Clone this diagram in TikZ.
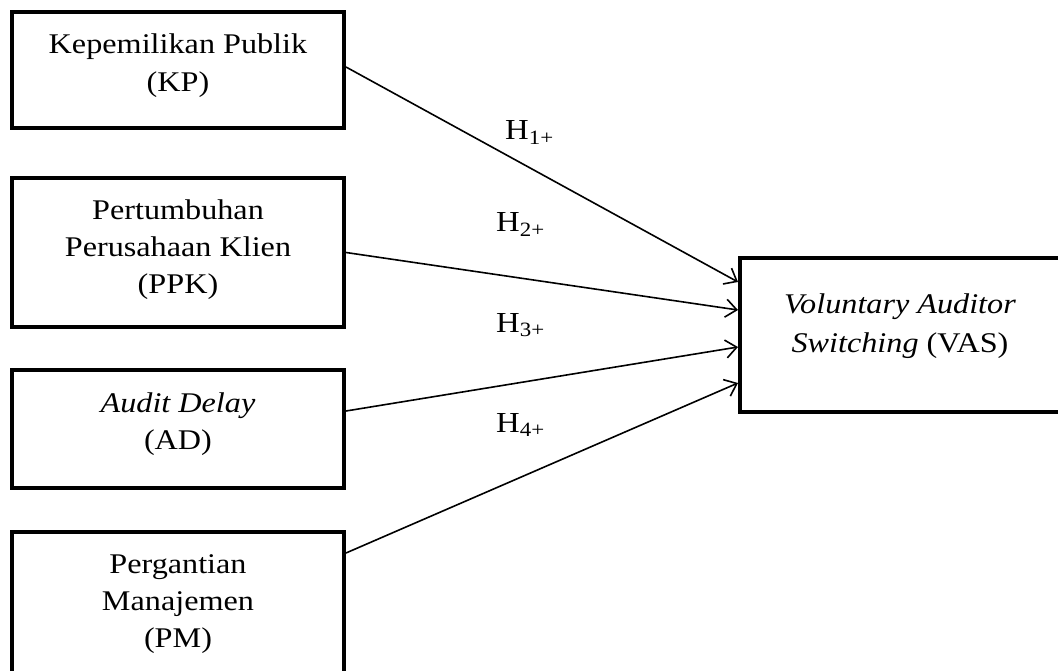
\documentclass[tikz,border=0pt]{standalone}
\usepackage{fontspec}
\setmainfont{Liberation Serif}[FakeStretch=1.13]
\usetikzlibrary{arrows.meta,calc}
\begin{document}
\begin{tikzpicture}[x=1pt,y=-1pt,
  box/.style={draw,line width=4pt,rectangle,inner sep=0pt},
  txt/.style={anchor=base,inner sep=0pt,font=\fontsize{28.5}{37}\selectfont},
  hyp/.style={anchor=base west,inner sep=0pt,font=\fontsize{29}{37}\selectfont},
  arr/.style={line width=1.6pt,-{Straight Barb[length=11pt,width=18pt,line width=1.6pt]}}]
\useasboundingbox (0,0) rectangle (1058,671);
\clip (0,0) rectangle (1058,671);
\fill[white] (0,0) rectangle (1058,671);
\node[box,minimum width=332pt,minimum height=116pt] (kp) at (178,70) {};
\node[box,minimum width=332pt,minimum height=149pt] (ppk) at (178,252.5) {};
\node[box,minimum width=332pt,minimum height=118pt] (ad) at (178,429) {};
\node[box,minimum width=332pt,minimum height=228pt] (pm) at (178,646) {};
\node[box,minimum width=380pt,minimum height=154pt] (vas) at (930,335) {};
\node[txt] (kp1) at (178,54) {Kepemilikan Publik};
\node[txt] (kp2) at (178,92) {(KP)};
\node[txt] (ppk1) at (178,220) {Pertumbuhan};
\node[txt] (ppk2) at (178,257) {Perusahaan Klien};
\node[txt] (ppk3) at (178,294) {(PPK)};
\node[txt] (ad1) at (178,412) {\textit{Audit Delay}};
\node[txt] (ad2) at (178,449) {(AD)};
\node[txt] (pm1) at (178,573) {Pergantian};
\node[txt] (pm2) at (178,610) {Manajemen};
\node[txt] (pm3) at (178,647) {(PM)};
\node[txt] (vas1) at (900,313) {\textit{Voluntary Auditor}};
\node[txt] (vas2) at (900,352) {\textit{Switching} (VAS)};
\node[hyp] (h1) at (505,140) {H\textsubscript{1+}};
\node[hyp] (h2) at (496,232) {H\textsubscript{2+}};
\node[hyp] (h3) at (496,332) {H\textsubscript{3+}};
\node[hyp] (h4) at (496,432) {H\textsubscript{4+}};
\draw[arr] ($(kp.east)+(0,-3)$) -- ($(vas.west)+(0,-53)$);
\draw[arr] (ppk.east) -- ($(vas.west)+(0,-25)$);
\draw[arr] ($(ad.east)+(0,-18)$) -- ($(vas.west)+(0,12)$);
\draw[arr] ($(pm.east)+(0,-93)$) -- ($(vas.west)+(0,48)$);
\end{tikzpicture}
\end{document}
